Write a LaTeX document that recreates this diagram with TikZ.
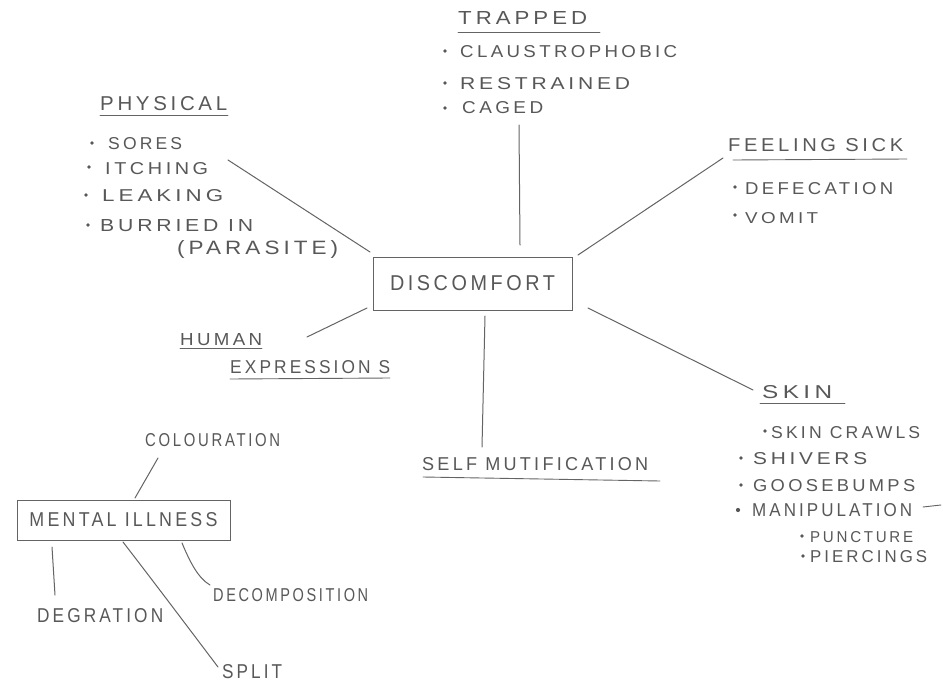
\documentclass[tikz,border=0pt]{standalone}
\usepackage{fontspec}
\usepackage{graphicx}
\setmainfont[LetterSpace=18]{Liberation Sans}
\definecolor{pencil}{RGB}{88,88,88}
\definecolor{pline}{RGB}{100,100,100}
\newcommand{\hw}[3]{\resizebox{#1pt}{#2pt}{#3}}
\tikzset{
  txt/.style={inner sep=0pt, anchor=base west, text=pencil},
  conn/.style={draw=pline, line width=1pt, line cap=round},
  uline/.style={draw=pline, line width=0.9pt, line cap=round},
  bul/.style={fill=pencil},
  boxnode/.style={draw=pline, line width=1pt, inner sep=0pt, text=pencil}
}
\begin{document}
\begin{tikzpicture}[x=1pt,y=-1pt]
\useasboundingbox (0,0) rectangle (943,688);
\fill[white] (0,0) rectangle (943,688);

% ---------- central node ----------
\node[boxnode, minimum width=199pt, minimum height=53pt] (disc) at (472.5,283.5) {\hw{165}{15}{DISCOMFORT}};

% ---------- TRAPPED ----------
\node[txt] (trapped) at (458,24) {\hw{129}{13}{TRAPPED}};
\draw[uline] (458,32) -- (600,32);
\fill[bul] (445,51) circle (1.9);
\node[txt] (claus) at (460,57) {\hw{217}{12}{CLAUSTROPHOBIC}};
\fill[bul] (445,83) circle (1.9);
\node[txt] (restr) at (460,89) {\hw{170}{12}{RESTRAINED}};
\fill[bul] (445,108) circle (1.9);
\node[txt] (caged) at (462,113) {\hw{81}{12}{CAGED}};
\coordinate (ctrap) at (519,125);
\coordinate (ctrapb) at (520,245);
\draw[conn] (ctrap) -- (ctrapb);

% ---------- PHYSICAL ----------
\node[txt] (phys) at (100,110) {\hw{127}{14}{PHYSICAL}};
\draw[uline] (100,115) -- (228,115);
\fill[bul] (92,143) circle (1.9);
\node[txt] (sores) at (108,149) {\hw{74}{12}{SORES}};
\fill[bul] (89,167) circle (1.9);
\node[txt] (itch) at (105,174) {\hw{103}{12}{ITCHING}};
\fill[bul] (86,195) circle (1.9);
\node[txt] (leak) at (102,201) {\hw{121}{12}{LEAKING}};
\fill[bul] (88,225) circle (1.9);
\node[txt] (burr) at (100,231) {\hw{153}{12}{BURRIED IN}};
\node[txt] (para) at (177,254) {\hw{161}{14}{(PARASITE)}};
\coordinate (cphys) at (228,160);
\coordinate (cdiscnw) at (370,252);
\draw[conn] (cphys) -- (cdiscnw);

% ---------- FEELING SICK ----------
\node[txt] (sick) at (728,151) {\hw{175}{13}{FEELING SICK}};
\draw[uline] (733,160) -- (907,159);
\fill[bul] (735,187) circle (1.9);
\node[txt] (defec) at (745,194) {\hw{148}{12}{DEFECATION}};
\fill[bul] (735,215) circle (1.9);
\node[txt] (vomit) at (745,223) {\hw{73}{11}{VOMIT}};
\coordinate (csick) at (723,158);
\coordinate (cdiscne) at (578,255);
\draw[conn] (cdiscne) -- (csick);

% ---------- HUMAN EXPRESSIONS ----------
\node[txt] (human) at (180,345) {\hw{82}{12}{HUMAN}};
\draw[uline] (180,348) -- (262,348);
\node[txt] (expr) at (230,373) {\hw{160}{13}{EXPRESSION S}};
\draw[uline] (230,379) -- (390,378);
\coordinate (chum) at (307,337);
\coordinate (cdiscsw) at (367,308);
\draw[conn] (chum) -- (cdiscsw);

% ---------- SELF MUTIFICATION ----------
\coordinate (cdiscs) at (485,316);
\coordinate (cself) at (482,447);
\draw[conn] (cdiscs) -- (cself);
\node[txt] (self) at (422,470) {\hw{226}{13}{SELF MUTIFICATION}};
\draw[uline] (423,477) -- (660,481);

% ---------- SKIN ----------
\coordinate (cdiscse) at (588,308);
\coordinate (cskin) at (753,390);
\draw[conn] (cdiscse) -- (cskin);
\node[txt] (skin) at (762,398) {\hw{70}{13}{SKIN}};
\draw[uline] (760,403) -- (845,403);
\fill[bul] (765,431) circle (1.9);
\node[txt] (crawl) at (771,438) {\hw{149}{12}{SKIN CRAWLS}};
\fill[bul] (741,458) circle (1.9);
\node[txt] (shiv) at (753,464) {\hw{114}{12}{SHIVERS}};
\fill[bul] (741,485) circle (1.9);
\node[txt] (goose) at (753,491) {\hw{162}{12}{GOOSEBUMPS}};
\fill[bul] (738,510) circle (2.1);
\node[txt] (manip) at (752,516) {\hw{160}{13}{MANIPULATION}};
\coordinate (cdash1) at (923,507);
\coordinate (cdash2) at (941,505);
\draw[uline] (cdash1) -- (cdash2);
\fill[bul] (802,536) circle (1.8);
\node[txt] (punct) at (810,542) {\hw{103}{11}{PUNCTURE}};
\fill[bul] (803,556) circle (1.8);
\node[txt] (pierc) at (810,562) {\hw{117}{12}{PIERCINGS}};

% ---------- MENTAL ILLNESS ----------
\node[boxnode, minimum width=213pt, minimum height=40pt] (mental) at (123.5,520) {\hw{188}{14}{MENTAL ILLNESS}};
\node[txt] (colour) at (145,446) {\hw{135}{13}{COLOURATION}};
\coordinate (ccol) at (158,458);
\coordinate (cmentn) at (135,498);
\draw[conn] (ccol) -- (cmentn);
\node[txt] (degr) at (37,622) {\hw{126}{14}{DEGRATION}};
\coordinate (cmentsw) at (52,547);
\coordinate (cdeg) at (55,595);
\draw[conn] (cmentsw) -- (cdeg);
\node[txt] (split) at (222,678) {\hw{60}{14}{SPLIT}};
\coordinate (cments) at (123,542);
\coordinate (csplit) at (218,667);
\draw[conn] (cments) .. controls (160,590) and (190,630) .. (csplit);
\node[txt] (decomp) at (213,601) {\hw{155}{13}{DECOMPOSITION}};
\coordinate (cmentse) at (182,543);
\coordinate (cdecomp) at (210,585);
\draw[conn] (cmentse) .. controls (190,562) and (198,578) .. (cdecomp);
\end{tikzpicture}
\end{document}
